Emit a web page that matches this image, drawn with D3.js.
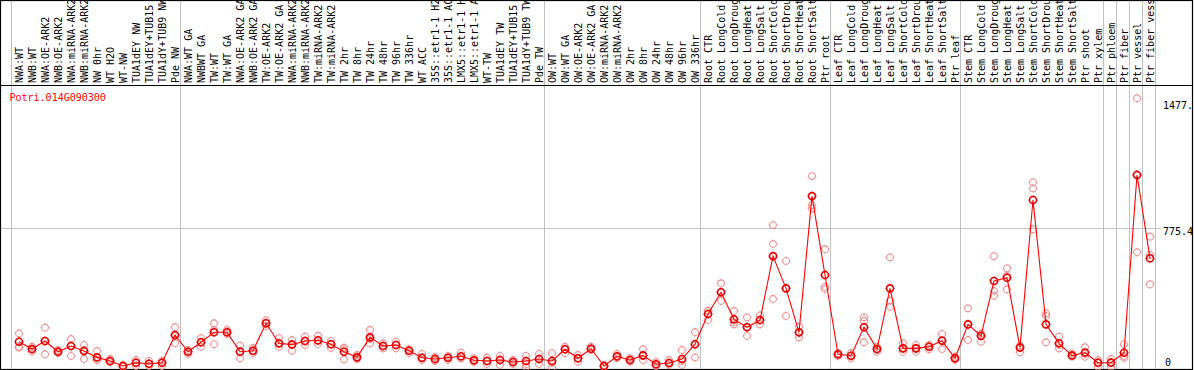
<!DOCTYPE html>
<html>
<head>
<meta charset="utf-8">
<script src="https://cdnjs.cloudflare.com/ajax/libs/d3/7.8.5/d3.min.js"></script>
<style>
  body { margin: 0; background: #fff; }
  svg { display: block; }
  text { font-family: "DejaVu Sans Mono", monospace; font-size: 10px; }
</style>
</head>
<body>
<svg width="1194" height="370"></svg>
<script>
// Sample names (as shown, truncated by the header)
var labels = [
  "NWA:WT", "NWB:WT", "NWA:OE-ARK2", "NWB:OE-ARK2", "NWA:miRNA-ARK2", "NWB:miRNA-ARK2",
  "NW 0hr", "WT H2O", "WT-NW", "TUA1dEY NW", "TUA1dEY+TUB15", "TUA1dY+TUB9 NW", "Pde NW",
  "NWA:WT GA", "NWBWT GA", "TW:WT", "TW:WT GA", "NWA:OE-ARK2 GA", "NWB:OE-ARK2 GA",
  "TW:OE-ARK2", "TW:OE-ARK2 GA", "NWA:miRNA-ARK2", "NWB:miRNA-ARK2", "TW:miRNA-ARK2",
  "TW:miRNA-ARK2", "TW 2hr", "TW 8hr", "TW 24hr", "TW 48hr", "TW 96hr", "TW 336hr",
  "WT ACC", "35S::etr1-1 H2", "35S::etr1-1 AC", "LMX5::etr1-1 H", "LMX5::etr1-1 A",
  "WT-TW", "TUA1dEY TW", "TUA1dEY+TUB15", "TUA1dY+TUB9 TW", "Pde TW",
  "OW:WT", "OW:WT GA", "OW:OE-ARK2", "OW:OE-ARK2 GA", "OW:miRNA-ARK2", "OW:miRNA-ARK2",
  "OW 2hr", "OW 8hr", "OW 24hr", "OW 48hr", "OW 96hr", "OW 336hr",
  "Root CTR", "Root LongCold", "Root LongDroug", "Root LongHeat", "Root LongSalt",
  "Root ShortCold", "Root ShortDrou", "Root ShortHeat", "Root ShortSalt", "Ptr root",
  "Leaf CTR", "Leaf LongCold", "Leaf LongDroug", "Leaf LongHeat", "Leaf LongSalt",
  "Leaf ShortCold", "Leaf ShortDrou", "Leaf ShortHeat", "Leaf ShortSalt", "Ptr leaf",
  "Stem CTR", "Stem LongCold", "Stem LongDroug", "Stem LongHeat", "Stem LongSalt",
  "Stem ShortCold", "Stem ShortDrou", "Stem ShortHeat", "Stem ShortSalt", "Ptr shoot",
  "Ptr xylem", "Ptr phloem", "Ptr fiber", "Ptr vessel", "Ptr fiber vess"
];

// Mean expression per sample
var means = [
  146, 105, 150, 90, 122, 94, 59, 39, 11, 29, 24, 29, 183,
  90, 143, 198, 198, 90, 96, 248, 137, 130, 150, 154, 132, 90, 59, 170, 122, 128, 96,
  57, 50, 57, 65, 43, 39, 44, 33, 39, 50,
  39, 104, 54, 107, 11, 65, 44, 70, 21, 28, 50, 132,
  300, 420, 270, 226, 266, 621, 442, 198, 954, 516,
  76, 68, 226, 105, 442, 109, 109, 118, 151, 54,
  242, 178, 483, 501, 113, 932, 242, 137, 69, 86, 29,
  29, 85, 1071, 609
];

// Replicate values per sample
var reps = [
  [192,118,113], [118,90,105], [224,76,150], [100,89,83], [161,67,122], [128,50,100],
  [94,44,44], [50,33,33], [11,6,17], [44,11,28], [39,11,22], [39,11,28], [226,137,178],
  [100,78,89], [166,117,144], [248,132,211], [211,189,200], [124,54,94], [111,83,94],
  [265,233,250], [166,117,133], [155,96,133], [174,128,150], [179,133,150], [150,111,133],
  [113,48,105], [72,50,61], [211,137,161], [137,109,122], [146,109,128], [105,83,94],
  [78,54,44], [61,39,50], [67,44,55], [85,54,55], [55,33,39], [57,22,39], [67,17,44],
  [44,22,33], [67,22,6], [78,22,50],
  [82,0,28], [118,82,105], [72,35,54], [118,100,105], [17,6,11], [78,55,61], [54,35,44],
  [104,44,67], [33,11,17], [44,17,28], [100,17,39], [198,59,133],
  [318,266,316], [470,372,422], [316,242,253], [281,178,228], [292,242,266],
  [793,688,383], [594,289,443], [229,170,194], [1065,904,886], [659,438,450],
  [83,67,72], [83,55,67], [281,262,143], [118,90,105], [614,373,340], [137,90,111],
  [128,90,111], [128,104,117], [189,105,155], [63,44,55],
  [331,155,244], [192,146,183], [621,427,401], [553,512,437], [122,87,117],
  [1030,997,770], [304,289,143], [174,109,128], [82,63,72], [115,63,78], [44,7,28],
  [50,7,33], [132,66,57], [1497,642,1074], [729,627,464]
];

// group separators (column index where a gray line is drawn)
var breaks = [0, 13, 41, 53, 63, 73, 84, 85, 86, 87, 88];
var yTicks = [0, 775.4, 1477.9];
var tickText = ["0", "775.4", "1477."];
var geneName = "Potri.014G090300";

var svg = d3.select("svg");
var headerH = 85, plotBottom = 369, frameRight = 1192;

var x = d3.scaleBand()
  .domain(d3.range(labels.length))
  .range([11, 1155]);
var bw = x.bandwidth();
var cx = function(i) { return x(i) + bw / 2 + 1.5; };

var y = d3.scaleLinear()
  .domain([0, 1477.9])
  .range([368, 101.7]);

// gray vertical separators
var sepX = function(d) { return d === labels.length ? x(d - 1) + bw + 0.5 : x(d) + 0.5; };
svg.append("g")
  .selectAll("line")
  .data(breaks)
  .enter()
  .append("line")
    .attr("x1", sepX)
    .attr("x2", sepX)
    .attr("y1", 0)
    .attr("y2", plotBottom)
    .attr("stroke", "#c0c0c0")
    .attr("stroke-width", 1);

// horizontal mid gridline
svg.append("line")
  .attr("x1", 1).attr("x2", 1161)
  .attr("y1", Math.round(y(775.4)) + 0.5).attr("y2", Math.round(y(775.4)) + 0.5)
  .attr("stroke", "#c0c0c0");

// frame
svg.append("rect")
  .attr("x", 0.5).attr("y", 0.5)
  .attr("width", frameRight).attr("height", plotBottom)
  .attr("fill", "none").attr("stroke", "#000").attr("stroke-width", 1.2);
svg.append("line")
  .attr("x1", 0).attr("x2", frameRight)
  .attr("y1", headerH + 0.5).attr("y2", headerH + 0.5)
  .attr("stroke", "#000").attr("stroke-width", 1.2);

// column labels
svg.append("g")
  .selectAll("text")
  .data(labels)
  .enter()
  .append("text")
    .attr("transform", function(d, i) { return "translate(" + cx(i) + "," + 83 + ") rotate(-90)"; })
    .attr("dy", "0.35em")
    .attr("fill", "#000")
    .text(function(d) { return d; });

// right axis labels
svg.append("g")
  .selectAll("text")
  .data(yTicks)
  .enter()
  .append("text")
    .attr("x", function(d, i) { return i === 0 ? 1165 : 1163; })
    .attr("y", function(d, i) { return i === 0 ? y(d) - 2.5 : y(d) + 7; })
    .attr("fill", "#000")
    .text(function(d, i) { return tickText[i]; });

// gene name
svg.append("text")
  .attr("x", 9.5).attr("y", 100.5)
  .attr("fill", "#ff0000")
  .text(geneName);

// circle marker with four tiny nubs
function marker(g, r) {
  g.append("circle").attr("r", r);
  g.append("path")
    .attr("stroke-width", 1)
    .attr("d", "M0," + (-r - 1) + "V" + (-r) + "M0," + r + "V" + (r + 1) +
               "M" + (-r - 1) + ",0H" + (-r) + "M" + r + ",0H" + (r + 1));
}

// replicate circles
var repData = [];
reps.forEach(function(rr, i) { rr.forEach(function(v) { repData.push({i: i, v: v}); }); });
svg.append("g")
  .attr("fill", "none")
  .attr("stroke", "#ee8f8f")
  .attr("stroke-width", 1.1)
  .selectAll("g")
  .data(repData)
  .enter()
  .append("g")
    .attr("transform", function(d) { return "translate(" + cx(d.i) + "," + y(d.v) + ")"; })
    .each(function() { marker(d3.select(this), 3.4); });

// mean line
var line = d3.line()
  .x(function(d, i) { return cx(i); })
  .y(function(d) { return y(d); });
svg.append("path")
  .datum(means)
  .attr("d", line)
  .attr("fill", "none")
  .attr("stroke", "#ff0000")
  .attr("stroke-width", 1.1);

// mean circles
svg.append("g")
  .attr("fill", "none")
  .attr("stroke", "#e80000")
  .attr("stroke-width", 1.6)
  .selectAll("g")
  .data(means)
  .enter()
  .append("g")
    .attr("transform", function(d, i) { return "translate(" + cx(i) + "," + y(d) + ")"; })
    .each(function() { marker(d3.select(this), 3.5); });
</script>
</body>
</html>
